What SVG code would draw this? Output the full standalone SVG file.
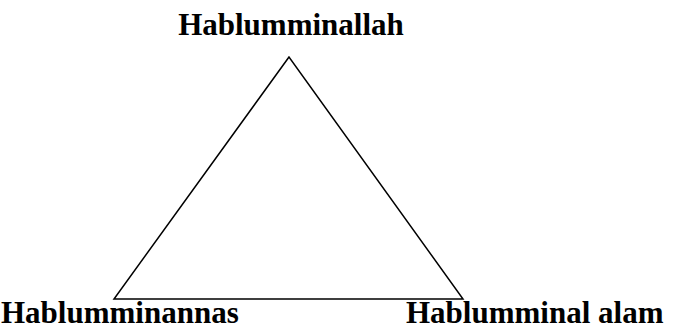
<svg xmlns="http://www.w3.org/2000/svg" width="676" height="330" viewBox="0 0 676 330">
<style>
text{font-family:"Liberation Serif","Times New Roman",serif;font-weight:bold;font-size:31px;fill:#000}
.edge{fill:none;stroke:#000;stroke-width:1.5}
</style>
<rect width="676" height="330" fill="#fff"/>
<g id="connectors">
<path class="edge" d="M289,57 L114,299 L463,299 Z" stroke-linejoin="miter"/>
</g>
<g id="node-top"><text x="291" y="35" text-anchor="middle">Hablumminallah</text></g>
<g id="node-left"><text x="1" y="323">Hablumminannas</text></g>
<g id="node-right"><text x="406" y="323">Hablumminal alam</text></g>
</svg>
